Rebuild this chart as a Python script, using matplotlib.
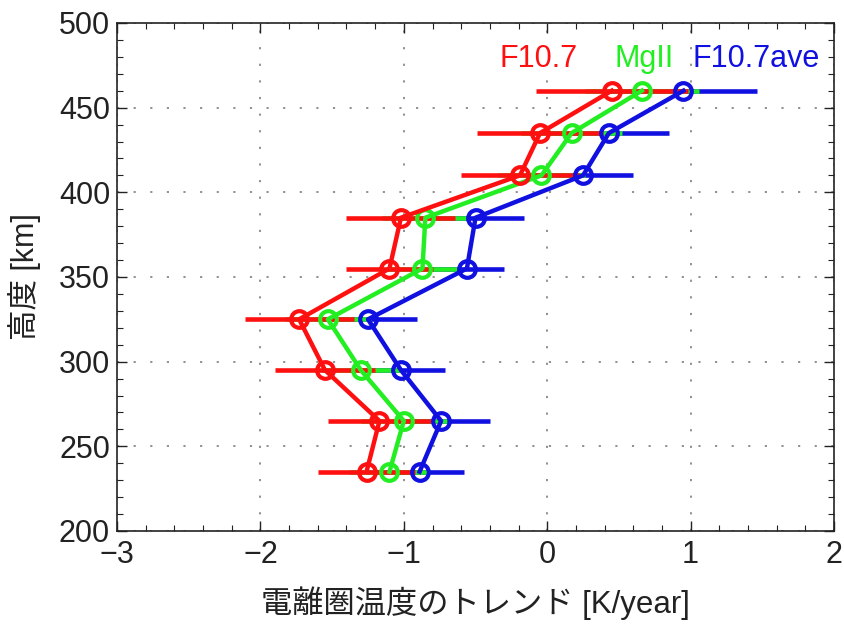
import matplotlib
matplotlib.use("Agg")
import matplotlib.pyplot as plt
from matplotlib.ticker import MultipleLocator

plt.rcParams['font.family'] = ['Liberation Sans', 'Noto Sans CJK JP', 'DejaVu Sans']

altitude = [460, 435, 410, 385, 355, 325, 295, 265, 235]

f107 = [0.45, -0.05, -0.19, -1.02, -1.10, -1.73, -1.55, -1.17, -1.26]
f107_err = [0.53, 0.44, 0.41, 0.38, 0.30, 0.38, 0.35, 0.36, 0.34]

mgii = [0.66, 0.17, -0.04, -0.85, -0.87, -1.53, -1.30, -1.00, -1.10]
mgii_err = [0.40, 0.35, 0.30, 0.30, 0.25, 0.30, 0.28, 0.30, 0.28]

f107ave = [0.95, 0.43, 0.25, -0.50, -0.56, -1.25, -1.02, -0.74, -0.89]
f107ave_err = [0.51, 0.42, 0.35, 0.34, 0.26, 0.34, 0.31, 0.34, 0.31]

series_names = ["F10.7", "MgII", "F10.7ave"]
colors = ["#FF1010", "#22EE22", "#1010E0"]

fig = plt.figure(figsize=(8.45, 6.26), dpi=100)
ax = fig.add_axes([0.1385, 0.1518, 0.9870 - 0.1385, 0.9633 - 0.1518])

data = [(f107, f107_err), (mgii, mgii_err), (f107ave, f107ave_err)]
for idx in [2, 1, 0]:
    vals, errs = data[idx]
    ax.errorbar(vals, altitude, xerr=errs, fmt='none', ecolor=colors[idx],
                elinewidth=3.3, capsize=0, zorder=2 + (2 - idx) * 0.1)
for idx in [2, 1, 0]:
    vals, errs = data[idx]
    ax.plot(vals, altitude, '-o', color=colors[idx], lw=3.2, markersize=12,
            markerfacecolor='none', markeredgewidth=3.0, zorder=3 + (2 - idx) * 0.1)

ax.set_xlim(-3, 2)
ax.set_ylim(200, 500)
ax.xaxis.set_major_locator(MultipleLocator(1))
ax.xaxis.set_minor_locator(MultipleLocator(0.2))
ax.yaxis.set_major_locator(MultipleLocator(50))
ax.yaxis.set_minor_locator(MultipleLocator(10))

ax.tick_params(which='both', direction='in', top=True, right=True, colors='#222222')
ax.tick_params(which='major', length=7, width=1.0, labelsize=22)
ax.tick_params(axis='x', which='major', pad=6.5)
ax.tick_params(axis='y', which='major', pad=5)
ax.tick_params(which='minor', length=4, width=0.8)
for s in ax.spines.values():
    s.set_color('#222222')
    s.set_linewidth(1.2)

ax.grid(True, which='major', color='#888888', linestyle=(0, (1.2, 8)), linewidth=1.3)
ax.set_axisbelow(True)

ax.set_xlabel("電離圏温度のトレンド [K/year]", fontsize=22.5, color='#222222', labelpad=12)
ax.set_ylabel("高度 [km]", fontsize=22, color='#222222', labelpad=13)

label_x = [-0.33, 0.47, 1.015]
for name, c, lx in zip(series_names, colors, label_x):
    ax.text(lx, 478.5, name, color=c, fontsize=22, ha='left', va='center', zorder=5)

fig.savefig("out.png", dpi=100)
